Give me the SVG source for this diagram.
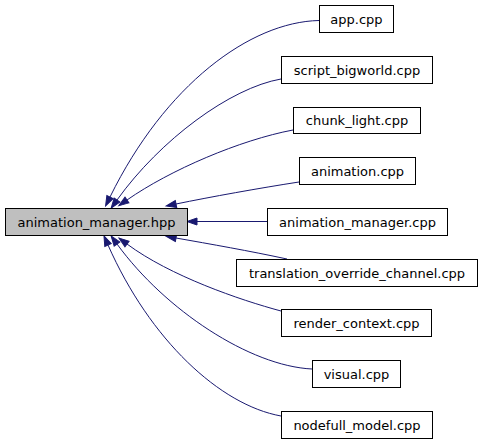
<svg xmlns="http://www.w3.org/2000/svg" width="482" height="442" viewBox="0 0 482 442">
<style>
.box{fill:#ffffff;stroke:#000000;stroke-width:1}
.main{fill:#bfbfbf;stroke:#000000;stroke-width:1}
.lbl{font-family:"DejaVu Sans",sans-serif;font-size:13px;fill:#000000;text-anchor:middle}
.edge{fill:none;stroke:#191970;stroke-width:1;marker-end:url(#arr)}
</style>
<defs>
<marker id="arr" markerUnits="userSpaceOnUse" markerWidth="10" markerHeight="7" refX="0" refY="3.5" orient="auto" overflow="visible">
<path d="M0,0 L10,3.5 L0,7 z" fill="#191970" stroke="#191970" stroke-width="1"/>
</marker>
</defs>
<rect width="482" height="442" fill="#ffffff"/>
<g id="connectors">
<path class="edge" d="M319,20.5 C250,22 165,85 110,197"/>
<path class="edge" d="M281,79 C230,88 160,140 117,200"/>
<path class="edge" d="M293,130 C240,140 170,170 127,200"/>
<path class="edge" d="M299,182 C260,188 210,197 176,204"/>
<path class="edge" d="M267,221.5 L197,221.5"/>
<path class="edge" d="M287,259 C250,251 210,244 176,238"/>
<path class="edge" d="M281,311 C240,300 170,276 127,244"/>
<path class="edge" d="M312,369 C250,366 165,310 117,244"/>
<path class="edge" d="M281,416 C220,405 150,340 108,245"/>
</g>
<g id="animation_manager_hpp">
<rect class="main" x="5.5" y="208.5" width="182" height="27"/>
<text class="lbl" x="96.5" y="226.7">animation_manager.hpp</text>
</g>
<g id="app_cpp">
<rect class="box" x="319.5" y="5.5" width="74" height="27"/>
<text class="lbl" x="356.5" y="23.7">app.cpp</text>
</g>
<g id="script_bigworld_cpp">
<rect class="box" x="281.5" y="56.5" width="151" height="27"/>
<text class="lbl" x="357" y="74.7">script_bigworld.cpp</text>
</g>
<g id="chunk_light_cpp">
<rect class="box" x="293.5" y="107.5" width="127" height="26"/>
<text class="lbl" x="357" y="125.2">chunk_light.cpp</text>
</g>
<g id="animation_cpp">
<rect class="box" x="299.5" y="157.5" width="116" height="27"/>
<text class="lbl" x="357.5" y="175.7">animation.cpp</text>
</g>
<g id="animation_manager_cpp">
<rect class="box" x="267.5" y="208.5" width="180" height="27"/>
<text class="lbl" x="357.5" y="226.7">animation_manager.cpp</text>
</g>
<g id="translation_override_channel_cpp">
<rect class="box" x="236.5" y="259.5" width="241" height="27"/>
<text class="lbl" x="357" y="277.7">translation_override_channel.cpp</text>
</g>
<g id="render_context_cpp">
<rect class="box" x="281.5" y="309.5" width="150" height="27"/>
<text class="lbl" x="356.5" y="327.7">render_context.cpp</text>
</g>
<g id="visual_cpp">
<rect class="box" x="312.5" y="360.5" width="88" height="27"/>
<text class="lbl" x="356.5" y="378.7">visual.cpp</text>
</g>
<g id="nodefull_model_cpp">
<rect class="box" x="281.5" y="411.5" width="151" height="27"/>
<text class="lbl" x="357" y="429.7">nodefull_model.cpp</text>
</g>
</svg>
